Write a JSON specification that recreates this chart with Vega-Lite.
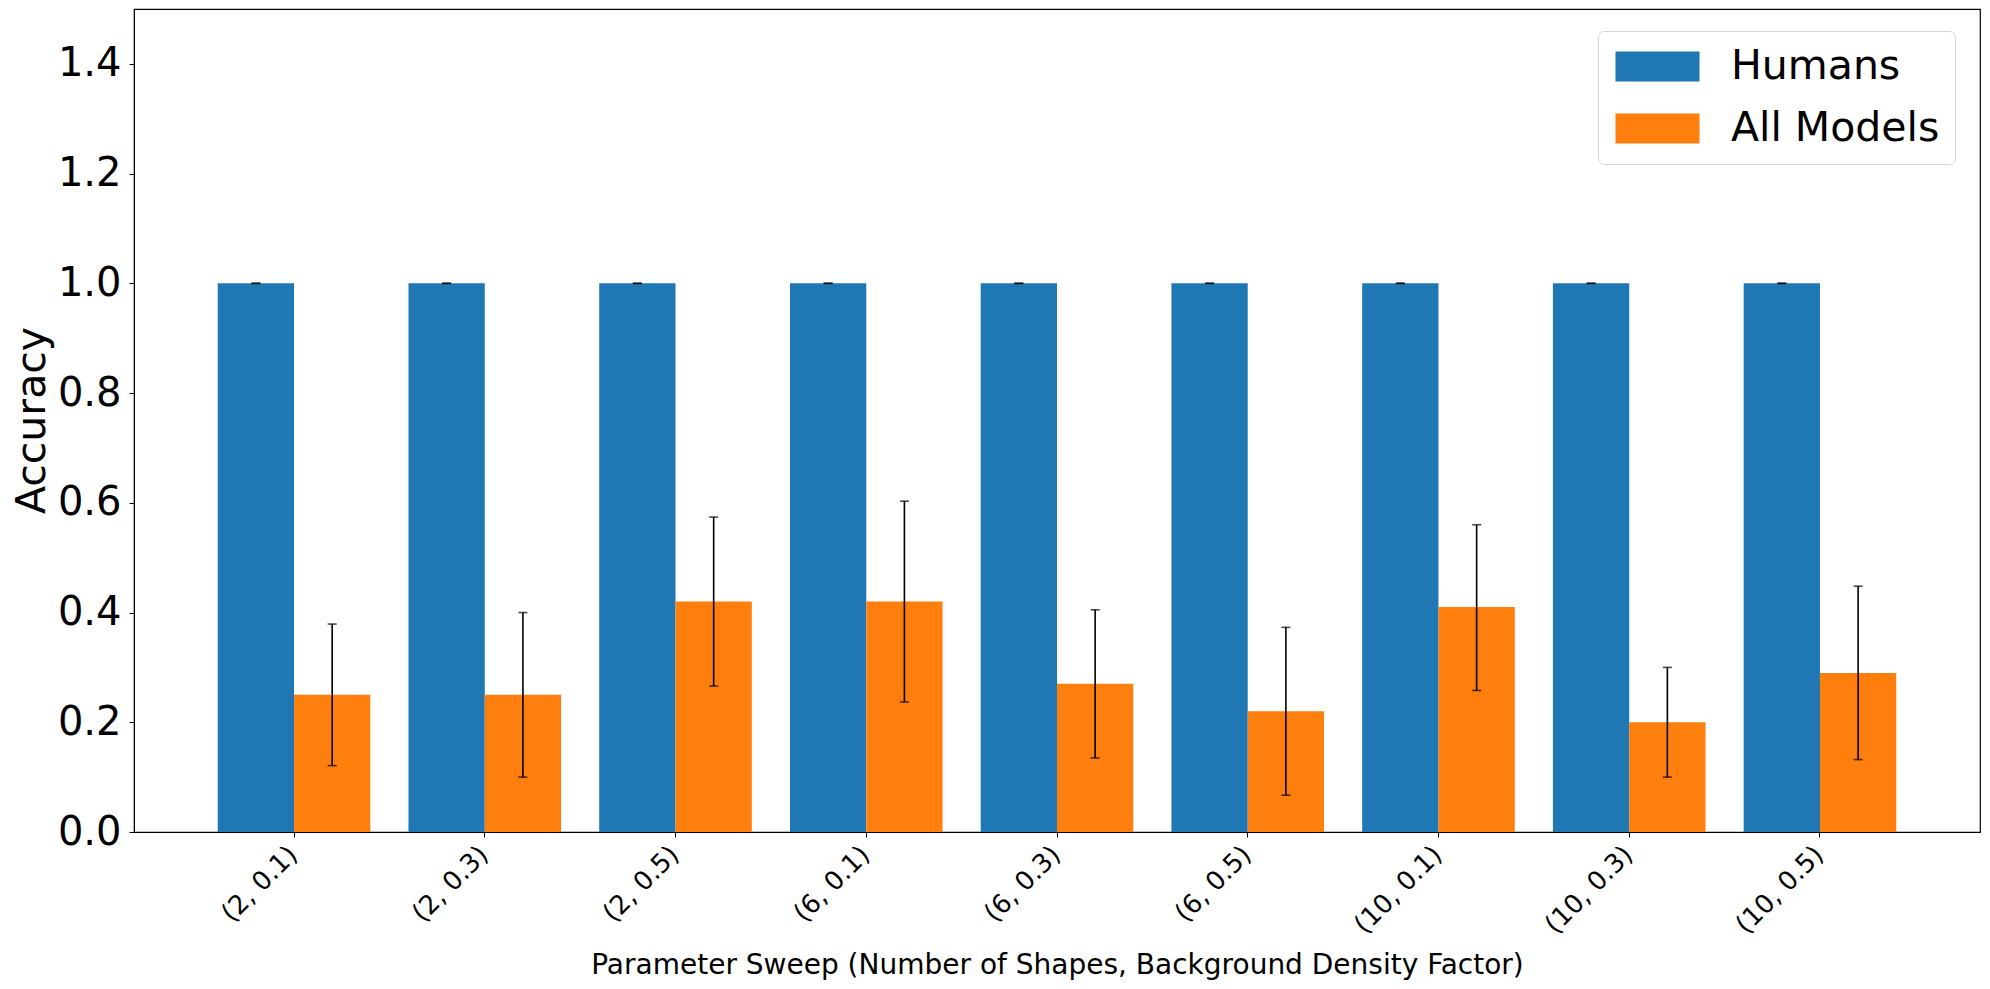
{
  "$schema": "https://vega.github.io/schema/vega-lite/v6.json",
  "width": 1846,
  "height": 823,
  "autosize": {"type": "none"},
  "padding": {"left": 134, "top": 9, "right": 10, "bottom": 157},
  "background": "white",
  "config": {
    "font": "DejaVu Sans",
    "view": {"stroke": "black", "strokeWidth": 1.2},
    "axis": {"grid": false, "domainColor": "black", "tickColor": "black", "labelColor": "black", "titleColor": "black", "labelFont": "DejaVu Sans", "titleFont": "DejaVu Sans", "titleFontWeight": "normal"}
  },
  "data": {
    "values": [
      {"param": "(2, 0.1)", "group": "Humans", "value": 1.0, "lower": 1.0, "upper": 1.0},
      {"param": "(2, 0.1)", "group": "All Models", "value": 0.25, "lower": 0.121, "upper": 0.379},
      {"param": "(2, 0.3)", "group": "Humans", "value": 1.0, "lower": 1.0, "upper": 1.0},
      {"param": "(2, 0.3)", "group": "All Models", "value": 0.25, "lower": 0.10, "upper": 0.40},
      {"param": "(2, 0.5)", "group": "Humans", "value": 1.0, "lower": 1.0, "upper": 1.0},
      {"param": "(2, 0.5)", "group": "All Models", "value": 0.42, "lower": 0.266, "upper": 0.574},
      {"param": "(6, 0.1)", "group": "Humans", "value": 1.0, "lower": 1.0, "upper": 1.0},
      {"param": "(6, 0.1)", "group": "All Models", "value": 0.42, "lower": 0.237, "upper": 0.603},
      {"param": "(6, 0.3)", "group": "Humans", "value": 1.0, "lower": 1.0, "upper": 1.0},
      {"param": "(6, 0.3)", "group": "All Models", "value": 0.27, "lower": 0.135, "upper": 0.405},
      {"param": "(6, 0.5)", "group": "Humans", "value": 1.0, "lower": 1.0, "upper": 1.0},
      {"param": "(6, 0.5)", "group": "All Models", "value": 0.22, "lower": 0.067, "upper": 0.373},
      {"param": "(10, 0.1)", "group": "Humans", "value": 1.0, "lower": 1.0, "upper": 1.0},
      {"param": "(10, 0.1)", "group": "All Models", "value": 0.41, "lower": 0.258, "upper": 0.560},
      {"param": "(10, 0.3)", "group": "Humans", "value": 1.0, "lower": 1.0, "upper": 1.0},
      {"param": "(10, 0.3)", "group": "All Models", "value": 0.20, "lower": 0.10, "upper": 0.30},
      {"param": "(10, 0.5)", "group": "Humans", "value": 1.0, "lower": 1.0, "upper": 1.0},
      {"param": "(10, 0.5)", "group": "All Models", "value": 0.29, "lower": 0.132, "upper": 0.448}
    ]
  },
  "encoding": {
    "x": {
      "field": "param",
      "type": "nominal",
      "sort": null,
      "scale": {"paddingInner": 0.2, "paddingOuter": 0.439},
      "axis": {
        "title": "Parameter Sweep (Number of Shapes, Background Density Factor)",
        "titleFontSize": 28,
        "titleY": 133,
        "titleBaseline": "middle",
        "labelAngle": -45,
        "labelAlign": "right",
        "labelBaseline": "top",
        "labelFontSize": 26,
        "labelPadding": 4,
        "tickSize": 5,
        "labelOffset": -10
      }
    },
    "xOffset": {"field": "group", "type": "nominal", "sort": ["Humans", "All Models"]}
  },
  "layer": [
    {
      "mark": {"type": "bar"},
      "encoding": {
        "y": {
          "field": "value",
          "type": "quantitative",
          "scale": {"domain": [0, 1.5], "nice": false},
          "axis": {
            "title": "Accuracy",
            "titleFontSize": 41,
            "titleX": -102,
            "titleY": 411,
            "titleAngle": -90,
            "titleAlign": "center",
            "titleBaseline": "middle",
            "values": [0, 0.2, 0.4, 0.6, 0.8, 1.0, 1.2, 1.4],
            "format": ".1f",
            "labelFontSize": 40,
            "labelPadding": 8,
            "tickSize": 5
          }
        },
        "color": {
          "field": "group",
          "type": "nominal",
          "sort": ["Humans", "All Models"],
          "scale": {"domain": ["Humans", "All Models"], "range": ["#1f77b4", "#ff7f0e"]},
          "legend": {
            "title": null,
            "orient": "none",
            "legendX": 1464,
            "legendY": 22,
            "symbolType": "M-1.2,-1H4.4V1H-1.2Z",
            "symbolSize": 900,
            "symbolStrokeWidth": 0,
            "symbolOpacity": 1,
            "labelFontSize": 41,
            "labelOffset": 77,
            "labelLimit": 500,
            "labelColor": "black",
            "rowPadding": 20,
            "padding": 15,
            "strokeColor": "#d5d5d5",
            "fillColor": "white",
            "cornerRadius": 6
          }
        }
      }
    },
    {
      "mark": {"type": "rule", "color": "black", "strokeWidth": 1.6},
      "encoding": {
        "y": {"field": "lower", "type": "quantitative"},
        "y2": {"field": "upper"}
      }
    },
    {
      "mark": {"type": "tick", "color": "black", "size": 9, "thickness": 1.6, "orient": "horizontal"},
      "encoding": {
        "y": {"field": "lower", "type": "quantitative"}
      }
    },
    {
      "mark": {"type": "tick", "color": "black", "size": 9, "thickness": 1.6, "orient": "horizontal"},
      "encoding": {
        "y": {"field": "upper", "type": "quantitative"}
      }
    }
  ]
}
